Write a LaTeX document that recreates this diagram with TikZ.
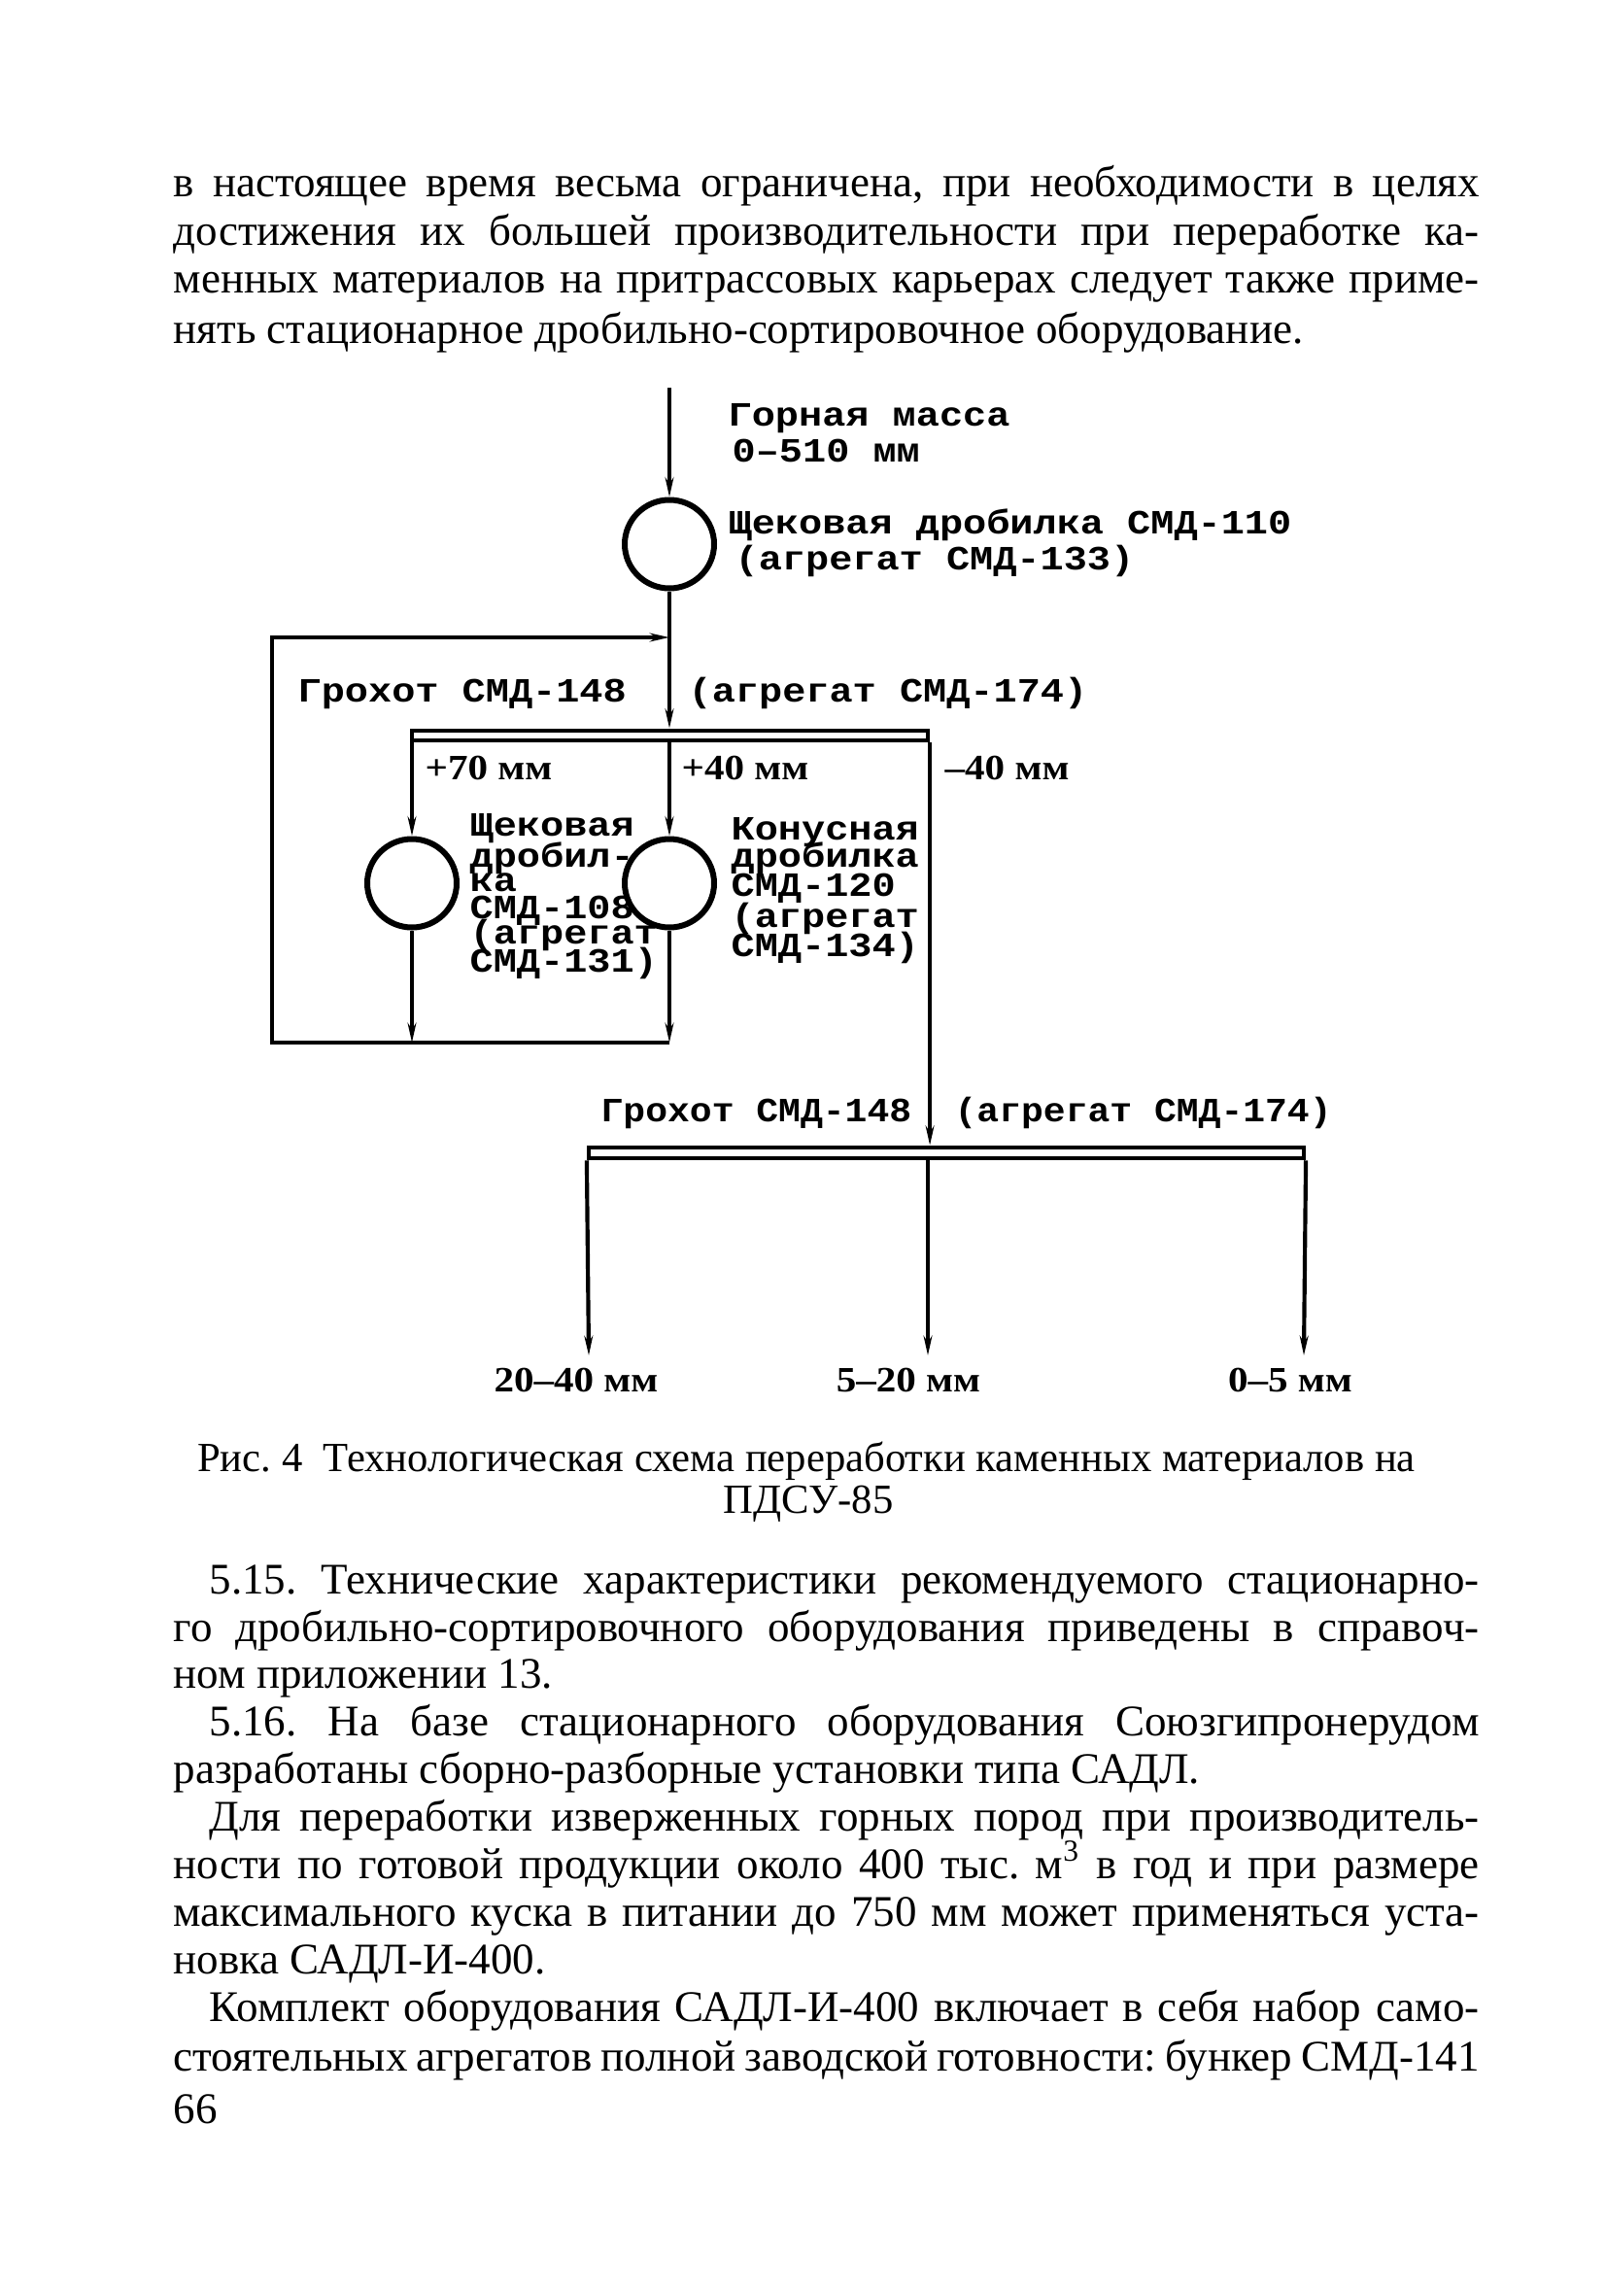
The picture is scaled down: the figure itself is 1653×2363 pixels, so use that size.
\documentclass[tikz,border=0pt]{standalone}
\usepackage{fontspec}
\setmainfont{Liberation Serif}
\newfontfamily\monob{Liberation Mono}[FakeStretch=1.15]
\newfontfamily\lblserif{Liberation Serif}[FakeStretch=1.12]
\usetikzlibrary{arrows.meta,shapes.geometric}
\newcommand\bodyfnt{\fontsize{13.5}{15}\selectfont\frenchspacing}
\newcommand\capfnt{\fontsize{12.8}{14}\selectfont\frenchspacing}
\newcommand\fullline[1]{\makebox[403.2pt][s]{#1}}
\newcommand\indline[1]{\makebox[392.1pt][s]{#1}}
\newcommand\narrow[1]{\scalebox{0.945}[1]{#1}}
\tikzset{
  ln/.style={line width=1.25pt},
  arr/.style={ln,-{Stealth[length=6pt,width=2.6pt]}},
  crusher/.style={draw,ellipse,line width=1.8pt,inner sep=0pt,minimum width=27.6pt,minimum height=27.3pt},
  screen/.style={draw,rectangle,line width=1.25pt,inner sep=0pt},
  mono/.style={font=\monob\bfseries\fontsize{10.5}{10.5}\selectfont,inner sep=0pt,anchor=base west},
  slab/.style={font=\lblserif\bfseries\fontsize{11}{11}\selectfont,inner sep=0pt,anchor=base west},
  slabc/.style={slab,anchor=base},
  body/.style={font=\bodyfnt,inner sep=0pt,anchor=base west},
  capc/.style={font=\capfnt,inner sep=0pt,anchor=base},
}
\begin{document}
\begin{tikzpicture}[x=0.3pt,y=-0.3pt]
\fill[white] (0,0) rectangle (1653,2363);
\useasboundingbox (0,0) rectangle (1653,2363);

% ---- body text above ----
\node[body] (t1) at (178,202) {\fullline{в настоящее время весьма ограничена, при необходимости в целях}};
\node[body] (t2) at (178,252) {\fullline{достижения их большей производительности при переработке ка-}};
\node[body] (t3) at (178,301) {\fullline{менных материалов на притрассовых карьерах следует также приме-}};
\node[body] (t4) at (178,353) {нять стационарное дробильно-сортировочное оборудование.};

% ---- diagram ----
\node[crusher] (c1) at (689,560) {};
\node[crusher] (c2) at (424,909) {};
\node[crusher] (c3) at (689,909) {};
\node[screen,minimum width=159.3pt,minimum height=3.2pt] (s1) at (689.5,757) {};
\node[screen,minimum width=220.8pt,minimum height=3.4pt] (s2) at (974,1186.5) {};

\coordinate (in) at (689,399);
\coordinate (j) at (689,656);
\coordinate (bl) at (280,1073);
\coordinate (o1) at (606,1395);
\coordinate (o2) at (955,1395);
\coordinate (o3) at (1342,1395);

\draw[arr] (in) -- (c1.north);
\draw[ln] (c1.south) -- (j);
\draw[arr] (j) -- (j |- s1.north);
\draw[arr] (c2.north |- s1.south) -- (c2.north);
\draw[arr] (c3.north |- s1.south) -- (c3.north);
\draw[arr] (c2.south) -- (c2.south |- bl);
\draw[arr] (c3.south) -- (c3.south |- bl);
\draw[arr] (c3.south |- bl) -- (bl) -- (bl |- j) -- (j);
\draw[arr] (s1.south east) -- (s1.south east |- s2.north);
\draw[arr] (s2.south west) -- (o1);
\draw[arr] (o2 |- s2.south) -- (o2);
\draw[arr] (s2.south east) -- (o3);

% labels
\node[mono] (l1) at (749,438) {Горная масса};
\node[mono] (l2) at (753,475) {0–510 мм};
\node[mono] (l3) at (749,549) {Щековая дробилка СМД-110};
\node[mono] (l4) at (756,586) {(агрегат СМД-133)};
\node[mono] (l5) at (306,722) {Грохот СМД-148};
\node[mono] (l6) at (708,722) {(агрегат СМД-174)};
\node[slab] (p70) at (437,802) {+70 мм};
\node[slab] (p40) at (701,802) {+40 мм};
\node[slab] (m40) at (972,802) {–40 мм};

\node[mono] (a1) at (483,860) {Щековая};
\node[mono] (a2) at (483,892) {дробил-};
\node[mono] (a3) at (483,917) {ка};
\node[mono] (a4) at (483,945) {СМД-108};
\node[mono] (a5) at (483,971) {(агрегат};
\node[mono] (a6) at (483,1000) {СМД-131)};

\node[mono] (b1) at (752,864) {Конусная};
\node[mono] (b2) at (752,892) {дробилка};
\node[mono] (b3) at (752,922) {СМД-120};
\node[mono] (b4) at (752,954) {(агрегат};
\node[mono] (b5) at (752,984) {СМД-134)};

\node[mono] (l7) at (618,1154) {\narrow{Грохот СМД-148}};
\node[mono] (l8) at (982,1154) {\narrow{(агрегат СМД-174)}};

\node[slabc] (r1) at (593,1432) {20–40 мм};
\node[slabc] (r2) at (935,1432) {5–20 мм};
\node[slabc] (r3) at (1328,1432) {0–5 мм};

% ---- caption ----
\node[capc] (cap1) at (830,1514) {Рис. 4\ \ Технологическая схема переработки каменных материалов на};
\node[capc] (cap2) at (832,1557) {ПДСУ-85};

% ---- body text below ----
\node[body] (u1) at (215,1640) {\indline{5.15. Технические характеристики рекомендуемого стационарно-}};
\node[body] (u2) at (178,1689) {\fullline{го дробильно-сортировочного оборудования приведены в справоч-}};
\node[body] (u3) at (178,1737) {ном приложении 13.};
\node[body] (u4) at (215,1786) {\indline{5.16. На базе стационарного оборудования Союзгипронерудом}};
\node[body] (u5) at (178,1835) {разработаны сборно-разборные установки типа САДЛ.};
\node[body] (u6) at (215,1884) {\indline{Для переработки изверженных горных пород при производитель-}};
\node[body] (u7) at (178,1933) {\fullline{ности по готовой продукции около 400 тыс. м\textsuperscript{3} в год и при размере}};
\node[body] (u8) at (178,1982) {\fullline{максимального куска в питании до 750 мм может применяться уста-}};
\node[body] (u9) at (178,2031) {новка САДЛ-И-400.};
\node[body] (u10) at (215,2080) {\indline{Комплект оборудования САДЛ-И-400 включает в себя набор само-}};
\node[body] (u11) at (178,2131) {\fullline{стоятельных агрегатов полной заводской готовности: бункер СМД-141}};
\node[body] (pg) at (178,2185) {66};
\end{tikzpicture}
\end{document}
